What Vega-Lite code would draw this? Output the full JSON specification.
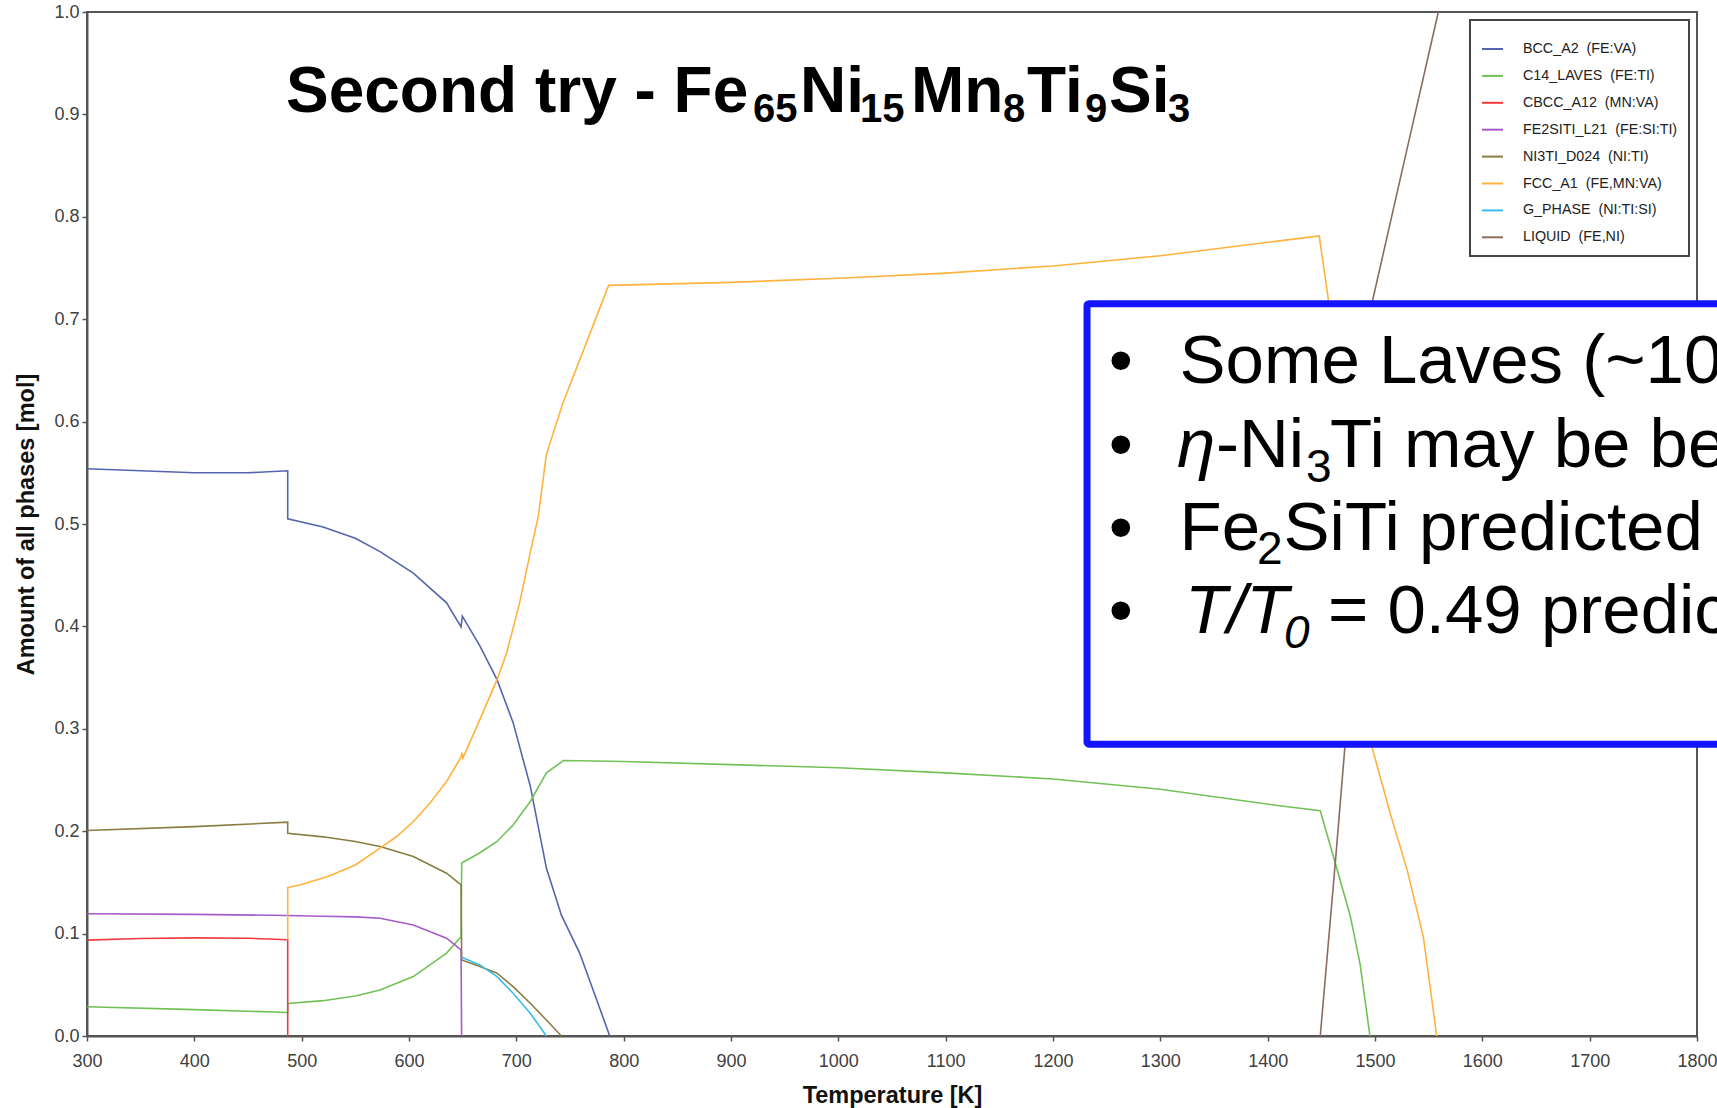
{
  "$schema": "https://vega.github.io/schema/vega-lite/v6.json",
  "width": 1610,
  "height": 1024,
  "autosize": {"type": "none"},
  "padding": {"left": 87, "top": 12, "right": 20, "bottom": 72},
  "background": "white",
  "config": {
    "view": {"stroke": "#555555", "strokeWidth": 2},
    "axis": {
      "grid": false,
      "domainColor": "#555555",
      "domainWidth": 2,
      "tickColor": "#555555",
      "tickWidth": 1.5,
      "tickSize": 5,
      "labelFlush": false,
      "labelOverlap": false,
      "labelFont": "Liberation Sans",
      "labelFontSize": 18,
      "labelColor": "#404040",
      "titleFont": "Liberation Sans",
      "titleFontSize": 23.5,
      "titleFontWeight": "bold",
      "titleColor": "#111111"
    },
    "axisX": {"labelPadding": 11, "titlePadding": 13},
    "axisY": {"labelPadding": 3, "titlePadding": 15},
    "legend": {"strokeWidth": 2}
  },
  "datasets": {
    "phases": [
      {"phase": "BCC_A2\u00a0 (FE:VA)", "i": 0, "T": 300, "amount": 0.554},
      {"phase": "BCC_A2\u00a0 (FE:VA)", "i": 1, "T": 350, "amount": 0.552},
      {"phase": "BCC_A2\u00a0 (FE:VA)", "i": 2, "T": 400, "amount": 0.550},
      {"phase": "BCC_A2\u00a0 (FE:VA)", "i": 3, "T": 450, "amount": 0.550},
      {"phase": "BCC_A2\u00a0 (FE:VA)", "i": 4, "T": 487, "amount": 0.552},
      {"phase": "BCC_A2\u00a0 (FE:VA)", "i": 5, "T": 487, "amount": 0.505},
      {"phase": "BCC_A2\u00a0 (FE:VA)", "i": 6, "T": 520, "amount": 0.497},
      {"phase": "BCC_A2\u00a0 (FE:VA)", "i": 7, "T": 550, "amount": 0.486},
      {"phase": "BCC_A2\u00a0 (FE:VA)", "i": 8, "T": 573, "amount": 0.473},
      {"phase": "BCC_A2\u00a0 (FE:VA)", "i": 9, "T": 604, "amount": 0.452},
      {"phase": "BCC_A2\u00a0 (FE:VA)", "i": 10, "T": 635, "amount": 0.423},
      {"phase": "BCC_A2\u00a0 (FE:VA)", "i": 11, "T": 648.5, "amount": 0.3995},
      {"phase": "BCC_A2\u00a0 (FE:VA)", "i": 12, "T": 649.7, "amount": 0.41},
      {"phase": "BCC_A2\u00a0 (FE:VA)", "i": 13, "T": 666, "amount": 0.381},
      {"phase": "BCC_A2\u00a0 (FE:VA)", "i": 14, "T": 682, "amount": 0.348},
      {"phase": "BCC_A2\u00a0 (FE:VA)", "i": 15, "T": 697, "amount": 0.306},
      {"phase": "BCC_A2\u00a0 (FE:VA)", "i": 16, "T": 713, "amount": 0.244},
      {"phase": "BCC_A2\u00a0 (FE:VA)", "i": 17, "T": 728, "amount": 0.164},
      {"phase": "BCC_A2\u00a0 (FE:VA)", "i": 18, "T": 742, "amount": 0.118},
      {"phase": "BCC_A2\u00a0 (FE:VA)", "i": 19, "T": 759, "amount": 0.081},
      {"phase": "BCC_A2\u00a0 (FE:VA)", "i": 20, "T": 775, "amount": 0.035},
      {"phase": "BCC_A2\u00a0 (FE:VA)", "i": 21, "T": 787, "amount": 0},

      {"phase": "C14_LAVES\u00a0 (FE:TI)", "i": 0, "T": 300, "amount": 0.0286},
      {"phase": "C14_LAVES\u00a0 (FE:TI)", "i": 1, "T": 400, "amount": 0.0258},
      {"phase": "C14_LAVES\u00a0 (FE:TI)", "i": 2, "T": 487, "amount": 0.023},
      {"phase": "C14_LAVES\u00a0 (FE:TI)", "i": 3, "T": 487, "amount": 0.0318},
      {"phase": "C14_LAVES\u00a0 (FE:TI)", "i": 4, "T": 520, "amount": 0.0345},
      {"phase": "C14_LAVES\u00a0 (FE:TI)", "i": 5, "T": 550, "amount": 0.039},
      {"phase": "C14_LAVES\u00a0 (FE:TI)", "i": 6, "T": 573, "amount": 0.045},
      {"phase": "C14_LAVES\u00a0 (FE:TI)", "i": 7, "T": 604, "amount": 0.058},
      {"phase": "C14_LAVES\u00a0 (FE:TI)", "i": 8, "T": 635, "amount": 0.081},
      {"phase": "C14_LAVES\u00a0 (FE:TI)", "i": 9, "T": 648.5, "amount": 0.097},
      {"phase": "C14_LAVES\u00a0 (FE:TI)", "i": 10, "T": 649.1, "amount": 0.169},
      {"phase": "C14_LAVES\u00a0 (FE:TI)", "i": 11, "T": 666, "amount": 0.179},
      {"phase": "C14_LAVES\u00a0 (FE:TI)", "i": 12, "T": 682, "amount": 0.19},
      {"phase": "C14_LAVES\u00a0 (FE:TI)", "i": 13, "T": 697, "amount": 0.206},
      {"phase": "C14_LAVES\u00a0 (FE:TI)", "i": 14, "T": 713, "amount": 0.229},
      {"phase": "C14_LAVES\u00a0 (FE:TI)", "i": 15, "T": 728, "amount": 0.257},
      {"phase": "C14_LAVES\u00a0 (FE:TI)", "i": 16, "T": 744, "amount": 0.269},
      {"phase": "C14_LAVES\u00a0 (FE:TI)", "i": 17, "T": 800, "amount": 0.268},
      {"phase": "C14_LAVES\u00a0 (FE:TI)", "i": 18, "T": 900, "amount": 0.265},
      {"phase": "C14_LAVES\u00a0 (FE:TI)", "i": 19, "T": 1000, "amount": 0.262},
      {"phase": "C14_LAVES\u00a0 (FE:TI)", "i": 20, "T": 1100, "amount": 0.257},
      {"phase": "C14_LAVES\u00a0 (FE:TI)", "i": 21, "T": 1200, "amount": 0.251},
      {"phase": "C14_LAVES\u00a0 (FE:TI)", "i": 22, "T": 1300, "amount": 0.241},
      {"phase": "C14_LAVES\u00a0 (FE:TI)", "i": 23, "T": 1411, "amount": 0.2248},
      {"phase": "C14_LAVES\u00a0 (FE:TI)", "i": 24, "T": 1449, "amount": 0.22},
      {"phase": "C14_LAVES\u00a0 (FE:TI)", "i": 25, "T": 1463, "amount": 0.169},
      {"phase": "C14_LAVES\u00a0 (FE:TI)", "i": 26, "T": 1477, "amount": 0.117},
      {"phase": "C14_LAVES\u00a0 (FE:TI)", "i": 27, "T": 1486, "amount": 0.071},
      {"phase": "C14_LAVES\u00a0 (FE:TI)", "i": 28, "T": 1495.3, "amount": 0},

      {"phase": "CBCC_A12\u00a0 (MN:VA)", "i": 0, "T": 300, "amount": 0.0936},
      {"phase": "CBCC_A12\u00a0 (MN:VA)", "i": 1, "T": 350, "amount": 0.0952},
      {"phase": "CBCC_A12\u00a0 (MN:VA)", "i": 2, "T": 400, "amount": 0.0958},
      {"phase": "CBCC_A12\u00a0 (MN:VA)", "i": 3, "T": 450, "amount": 0.0955},
      {"phase": "CBCC_A12\u00a0 (MN:VA)", "i": 4, "T": 487, "amount": 0.094},
      {"phase": "CBCC_A12\u00a0 (MN:VA)", "i": 5, "T": 487, "amount": 0},

      {"phase": "FE2SITI_L21\u00a0 (FE:SI:TI)", "i": 0, "T": 300, "amount": 0.1194},
      {"phase": "FE2SITI_L21\u00a0 (FE:SI:TI)", "i": 1, "T": 400, "amount": 0.1188},
      {"phase": "FE2SITI_L21\u00a0 (FE:SI:TI)", "i": 2, "T": 487, "amount": 0.1177},
      {"phase": "FE2SITI_L21\u00a0 (FE:SI:TI)", "i": 3, "T": 520, "amount": 0.117},
      {"phase": "FE2SITI_L21\u00a0 (FE:SI:TI)", "i": 4, "T": 550, "amount": 0.1163},
      {"phase": "FE2SITI_L21\u00a0 (FE:SI:TI)", "i": 5, "T": 573, "amount": 0.115},
      {"phase": "FE2SITI_L21\u00a0 (FE:SI:TI)", "i": 6, "T": 604, "amount": 0.1085},
      {"phase": "FE2SITI_L21\u00a0 (FE:SI:TI)", "i": 7, "T": 635, "amount": 0.0955},
      {"phase": "FE2SITI_L21\u00a0 (FE:SI:TI)", "i": 8, "T": 648.5, "amount": 0.084},
      {"phase": "FE2SITI_L21\u00a0 (FE:SI:TI)", "i": 9, "T": 649, "amount": 0},

      {"phase": "NI3TI_D024\u00a0 (NI:TI)", "i": 0, "T": 300, "amount": 0.2007},
      {"phase": "NI3TI_D024\u00a0 (NI:TI)", "i": 1, "T": 400, "amount": 0.2045},
      {"phase": "NI3TI_D024\u00a0 (NI:TI)", "i": 2, "T": 487, "amount": 0.2088},
      {"phase": "NI3TI_D024\u00a0 (NI:TI)", "i": 3, "T": 487, "amount": 0.198},
      {"phase": "NI3TI_D024\u00a0 (NI:TI)", "i": 4, "T": 520, "amount": 0.1945},
      {"phase": "NI3TI_D024\u00a0 (NI:TI)", "i": 5, "T": 550, "amount": 0.19},
      {"phase": "NI3TI_D024\u00a0 (NI:TI)", "i": 6, "T": 573, "amount": 0.185},
      {"phase": "NI3TI_D024\u00a0 (NI:TI)", "i": 7, "T": 604, "amount": 0.1753},
      {"phase": "NI3TI_D024\u00a0 (NI:TI)", "i": 8, "T": 635, "amount": 0.159},
      {"phase": "NI3TI_D024\u00a0 (NI:TI)", "i": 9, "T": 648.5, "amount": 0.1476},
      {"phase": "NI3TI_D024\u00a0 (NI:TI)", "i": 10, "T": 649.1, "amount": 0.0743},
      {"phase": "NI3TI_D024\u00a0 (NI:TI)", "i": 11, "T": 666, "amount": 0.0678},
      {"phase": "NI3TI_D024\u00a0 (NI:TI)", "i": 12, "T": 682, "amount": 0.0613},
      {"phase": "NI3TI_D024\u00a0 (NI:TI)", "i": 13, "T": 697, "amount": 0.0482},
      {"phase": "NI3TI_D024\u00a0 (NI:TI)", "i": 14, "T": 713, "amount": 0.032},
      {"phase": "NI3TI_D024\u00a0 (NI:TI)", "i": 15, "T": 728, "amount": 0.0156},
      {"phase": "NI3TI_D024\u00a0 (NI:TI)", "i": 16, "T": 742, "amount": 0},

      {"phase": "FCC_A1\u00a0 (FE,MN:VA)", "i": 0, "T": 487, "amount": 0.094},
      {"phase": "FCC_A1\u00a0 (FE,MN:VA)", "i": 1, "T": 487, "amount": 0.145},
      {"phase": "FCC_A1\u00a0 (FE,MN:VA)", "i": 2, "T": 500, "amount": 0.148},
      {"phase": "FCC_A1\u00a0 (FE,MN:VA)", "i": 3, "T": 525, "amount": 0.156},
      {"phase": "FCC_A1\u00a0 (FE,MN:VA)", "i": 4, "T": 550, "amount": 0.167},
      {"phase": "FCC_A1\u00a0 (FE,MN:VA)", "i": 5, "T": 573, "amount": 0.1835},
      {"phase": "FCC_A1\u00a0 (FE,MN:VA)", "i": 6, "T": 588.5, "amount": 0.1948},
      {"phase": "FCC_A1\u00a0 (FE,MN:VA)", "i": 7, "T": 604, "amount": 0.2095},
      {"phase": "FCC_A1\u00a0 (FE,MN:VA)", "i": 8, "T": 619.6, "amount": 0.2275},
      {"phase": "FCC_A1\u00a0 (FE,MN:VA)", "i": 9, "T": 635, "amount": 0.2486},
      {"phase": "FCC_A1\u00a0 (FE,MN:VA)", "i": 10, "T": 648.5, "amount": 0.2724},
      {"phase": "FCC_A1\u00a0 (FE,MN:VA)", "i": 11, "T": 649.3, "amount": 0.2765},
      {"phase": "FCC_A1\u00a0 (FE,MN:VA)", "i": 12, "T": 650.2, "amount": 0.2715},
      {"phase": "FCC_A1\u00a0 (FE,MN:VA)", "i": 13, "T": 666, "amount": 0.309},
      {"phase": "FCC_A1\u00a0 (FE,MN:VA)", "i": 14, "T": 682, "amount": 0.348},
      {"phase": "FCC_A1\u00a0 (FE,MN:VA)", "i": 15, "T": 691, "amount": 0.374},
      {"phase": "FCC_A1\u00a0 (FE,MN:VA)", "i": 16, "T": 703, "amount": 0.423},
      {"phase": "FCC_A1\u00a0 (FE,MN:VA)", "i": 17, "T": 713, "amount": 0.472},
      {"phase": "FCC_A1\u00a0 (FE,MN:VA)", "i": 18, "T": 720.5, "amount": 0.508},
      {"phase": "FCC_A1\u00a0 (FE,MN:VA)", "i": 19, "T": 728, "amount": 0.568},
      {"phase": "FCC_A1\u00a0 (FE,MN:VA)", "i": 20, "T": 743, "amount": 0.617},
      {"phase": "FCC_A1\u00a0 (FE,MN:VA)", "i": 21, "T": 786, "amount": 0.733},
      {"phase": "FCC_A1\u00a0 (FE,MN:VA)", "i": 22, "T": 900, "amount": 0.736},
      {"phase": "FCC_A1\u00a0 (FE,MN:VA)", "i": 23, "T": 1000, "amount": 0.740},
      {"phase": "FCC_A1\u00a0 (FE,MN:VA)", "i": 24, "T": 1100, "amount": 0.745},
      {"phase": "FCC_A1\u00a0 (FE,MN:VA)", "i": 25, "T": 1200, "amount": 0.752},
      {"phase": "FCC_A1\u00a0 (FE,MN:VA)", "i": 26, "T": 1300, "amount": 0.762},
      {"phase": "FCC_A1\u00a0 (FE,MN:VA)", "i": 27, "T": 1411, "amount": 0.7765},
      {"phase": "FCC_A1\u00a0 (FE,MN:VA)", "i": 28, "T": 1448, "amount": 0.7814},
      {"phase": "FCC_A1\u00a0 (FE,MN:VA)", "i": 29, "T": 1456.5, "amount": 0.7195},
      {"phase": "FCC_A1\u00a0 (FE,MN:VA)", "i": 30, "T": 1497, "amount": 0.283},
      {"phase": "FCC_A1\u00a0 (FE,MN:VA)", "i": 31, "T": 1514, "amount": 0.218},
      {"phase": "FCC_A1\u00a0 (FE,MN:VA)", "i": 32, "T": 1530, "amount": 0.162},
      {"phase": "FCC_A1\u00a0 (FE,MN:VA)", "i": 33, "T": 1545, "amount": 0.097},
      {"phase": "FCC_A1\u00a0 (FE,MN:VA)", "i": 34, "T": 1557.5, "amount": 0},

      {"phase": "G_PHASE\u00a0 (NI:TI:SI)", "i": 0, "T": 649.1, "amount": 0.077},
      {"phase": "G_PHASE\u00a0 (NI:TI:SI)", "i": 1, "T": 666, "amount": 0.0694},
      {"phase": "G_PHASE\u00a0 (NI:TI:SI)", "i": 2, "T": 682, "amount": 0.058},
      {"phase": "G_PHASE\u00a0 (NI:TI:SI)", "i": 3, "T": 697, "amount": 0.0417},
      {"phase": "G_PHASE\u00a0 (NI:TI:SI)", "i": 4, "T": 713, "amount": 0.0222},
      {"phase": "G_PHASE\u00a0 (NI:TI:SI)", "i": 5, "T": 728, "amount": 0},

      {"phase": "LIQUID\u00a0 (FE,NI)", "i": 0, "T": 1449, "amount": 0},
      {"phase": "LIQUID\u00a0 (FE,NI)", "i": 1, "T": 1463, "amount": 0.169},
      {"phase": "LIQUID\u00a0 (FE,NI)", "i": 2, "T": 1472, "amount": 0.283},
      {"phase": "LIQUID\u00a0 (FE,NI)", "i": 3, "T": 1498, "amount": 0.7195},
      {"phase": "LIQUID\u00a0 (FE,NI)", "i": 4, "T": 1528.5, "amount": 0.86},
      {"phase": "LIQUID\u00a0 (FE,NI)", "i": 5, "T": 1559, "amount": 1.0}
    ],
    "box": [
      {"T": 1231.7, "T2": 1900, "amount": 0.285, "amount2": 0.7151}
    ],
    "titleMain": [
      {"t": "Second try - Fe", "T": 485.4, "amount": 0.9023},
      {"t": "Ni", "T": 964.3, "amount": 0.9023},
      {"t": "Mn", "T": 1067.7, "amount": 0.9023},
      {"t": "Ti", "T": 1175.8, "amount": 0.9023},
      {"t": "Si", "T": 1252.2, "amount": 0.9023}
    ],
    "titleSub": [
      {"t": "65", "T": 920.5, "amount": 0.8926},
      {"t": "15", "T": 1020.2, "amount": 0.8926},
      {"t": "8", "T": 1153.4, "amount": 0.8926},
      {"t": "9", "T": 1229.8, "amount": 0.8926},
      {"t": "3", "T": 1307.2, "amount": 0.8926}
    ],
    "bullets": [
      {"t": "•", "T": 1263.1, "amount": 0.6374},
      {"t": "•", "T": 1263.1, "amount": 0.556},
      {"t": "•", "T": 1263.1, "amount": 0.4746},
      {"t": "•", "T": 1263.1, "amount": 0.3933}
    ],
    "boxReg": [
      {"t": "Some Laves (~10%)", "T": 1317.9, "amount": 0.6374},
      {"t": "-Ni", "T": 1351.9, "amount": 0.556},
      {"t": "Ti may be beneficial", "T": 1458.1, "amount": 0.556},
      {"t": "Fe", "T": 1317.9, "amount": 0.4746},
      {"t": "SiTi predicted", "T": 1414.8, "amount": 0.4746},
      {"t": "= 0.49 predicted", "T": 1456.2, "amount": 0.3933}
    ],
    "boxItal": [
      {"t": "η", "T": 1315.5, "amount": 0.556},
      {"t": "T/T", "T": 1323, "amount": 0.3933}
    ],
    "boxSub": [
      {"t": "3", "T": 1435.7, "amount": 0.5413},
      {"t": "2", "T": 1390.1, "amount": 0.4606}
    ],
    "boxSubItal": [
      {"t": "0", "T": 1415.2, "amount": 0.3786}
    ]
  },
  "layer": [
    {
      "data": {"name": "phases"},
      "mark": {"type": "line", "strokeWidth": 1.6},
      "encoding": {
        "x": {
          "field": "T", "type": "quantitative", "title": "Temperature [K]",
          "scale": {"domain": [300, 1800], "nice": false, "zero": false},
          "axis": {"values": [300, 400, 500, 600, 700, 800, 900, 1000, 1100, 1200, 1300, 1400, 1500, 1600, 1700, 1800], "format": "d"}
        },
        "y": {
          "field": "amount", "type": "quantitative", "title": "Amount of all phases [mol]",
          "scale": {"domain": [0, 1], "nice": false},
          "axis": {"values": [0, 0.1, 0.2, 0.3, 0.4, 0.5, 0.6, 0.7, 0.8, 0.9, 1.0], "format": ".1f"}
        },
        "color": {
          "field": "phase", "type": "nominal",
          "scale": {
            "domain": ["BCC_A2\u00a0 (FE:VA)", "C14_LAVES\u00a0 (FE:TI)", "CBCC_A12\u00a0 (MN:VA)", "FE2SITI_L21\u00a0 (FE:SI:TI)", "NI3TI_D024\u00a0 (NI:TI)", "FCC_A1\u00a0 (FE,MN:VA)", "G_PHASE\u00a0 (NI:TI:SI)", "LIQUID\u00a0 (FE,NI)"],
            "range": ["#5565ad", "#72c157", "#ef3b3e", "#a65bc8", "#8a7d42", "#ffb23c", "#3dbbe8", "#8c6b60"]
          },
          "legend": {
            "title": "\u00a0",
            "titleFontSize": 1,
            "titlePadding": 5.5,
            "orient": "top-right",
            "offset": 8,
            "symbolType": "stroke",
            "symbolSize": 441,
            "symbolStrokeWidth": 2,
            "labelFont": "Liberation Sans",
            "labelFontSize": 14.3,
            "labelColor": "#222222",
            "labelOffset": 19,
            "labelLimit": 400,
            "rowPadding": 7.9,
            "padding": 11,
            "strokeColor": "#444444",
            "fillColor": "white"
          }
        },
        "order": {"field": "i", "type": "quantitative"}
      }
    },
    {
      "data": {"name": "box"},
      "mark": {"type": "rect", "fill": "white", "stroke": "#1414ff", "strokeWidth": 7, "cornerRadius": 2},
      "encoding": {
        "x": {"field": "T", "type": "quantitative", "title": "Temperature [K]", "scale": {"domain": [300, 1800], "nice": false, "zero": false}},
        "x2": {"field": "T2"},
        "y": {"field": "amount", "type": "quantitative", "title": "Amount of all phases [mol]", "scale": {"domain": [0, 1], "nice": false}},
        "y2": {"field": "amount2"}
      }
    },
    {
      "data": {"name": "titleMain"},
      "mark": {"type": "text", "font": "Liberation Sans", "fontSize": 64, "fontWeight": "bold", "color": "#000000", "align": "left", "baseline": "alphabetic"},
      "encoding": {
        "x": {"field": "T", "type": "quantitative", "title": "Temperature [K]", "scale": {"domain": [300, 1800], "nice": false, "zero": false}},
        "y": {"field": "amount", "type": "quantitative", "title": "Amount of all phases [mol]", "scale": {"domain": [0, 1], "nice": false}},
        "text": {"field": "t"}
      }
    },
    {
      "data": {"name": "titleSub"},
      "mark": {"type": "text", "font": "Liberation Sans", "fontSize": 40, "fontWeight": "bold", "color": "#000000", "align": "left", "baseline": "alphabetic"},
      "encoding": {
        "x": {"field": "T", "type": "quantitative", "title": "Temperature [K]", "scale": {"domain": [300, 1800], "nice": false, "zero": false}},
        "y": {"field": "amount", "type": "quantitative", "title": "Amount of all phases [mol]", "scale": {"domain": [0, 1], "nice": false}},
        "text": {"field": "t"}
      }
    },
    {
      "data": {"name": "bullets"},
      "mark": {"type": "text", "font": "Liberation Sans", "fontSize": 69, "color": "#000000", "align": "center", "baseline": "alphabetic"},
      "encoding": {
        "x": {"field": "T", "type": "quantitative", "title": "Temperature [K]", "scale": {"domain": [300, 1800], "nice": false, "zero": false}},
        "y": {"field": "amount", "type": "quantitative", "title": "Amount of all phases [mol]", "scale": {"domain": [0, 1], "nice": false}},
        "text": {"field": "t"}
      }
    },
    {
      "data": {"name": "boxReg"},
      "mark": {"type": "text", "font": "Liberation Sans", "fontSize": 69, "color": "#000000", "align": "left", "baseline": "alphabetic"},
      "encoding": {
        "x": {"field": "T", "type": "quantitative", "title": "Temperature [K]", "scale": {"domain": [300, 1800], "nice": false, "zero": false}},
        "y": {"field": "amount", "type": "quantitative", "title": "Amount of all phases [mol]", "scale": {"domain": [0, 1], "nice": false}},
        "text": {"field": "t"}
      }
    },
    {
      "data": {"name": "boxItal"},
      "mark": {"type": "text", "font": "Liberation Sans", "fontSize": 69, "fontStyle": "italic", "color": "#000000", "align": "left", "baseline": "alphabetic"},
      "encoding": {
        "x": {"field": "T", "type": "quantitative", "title": "Temperature [K]", "scale": {"domain": [300, 1800], "nice": false, "zero": false}},
        "y": {"field": "amount", "type": "quantitative", "title": "Amount of all phases [mol]", "scale": {"domain": [0, 1], "nice": false}},
        "text": {"field": "t"}
      }
    },
    {
      "data": {"name": "boxSub"},
      "mark": {"type": "text", "font": "Liberation Sans", "fontSize": 46, "color": "#000000", "align": "left", "baseline": "alphabetic"},
      "encoding": {
        "x": {"field": "T", "type": "quantitative", "title": "Temperature [K]", "scale": {"domain": [300, 1800], "nice": false, "zero": false}},
        "y": {"field": "amount", "type": "quantitative", "title": "Amount of all phases [mol]", "scale": {"domain": [0, 1], "nice": false}},
        "text": {"field": "t"}
      }
    },
    {
      "data": {"name": "boxSubItal"},
      "mark": {"type": "text", "font": "Liberation Sans", "fontSize": 46, "fontStyle": "italic", "color": "#000000", "align": "left", "baseline": "alphabetic"},
      "encoding": {
        "x": {"field": "T", "type": "quantitative", "title": "Temperature [K]", "scale": {"domain": [300, 1800], "nice": false, "zero": false}},
        "y": {"field": "amount", "type": "quantitative", "title": "Amount of all phases [mol]", "scale": {"domain": [0, 1], "nice": false}},
        "text": {"field": "t"}
      }
    }
  ]
}
